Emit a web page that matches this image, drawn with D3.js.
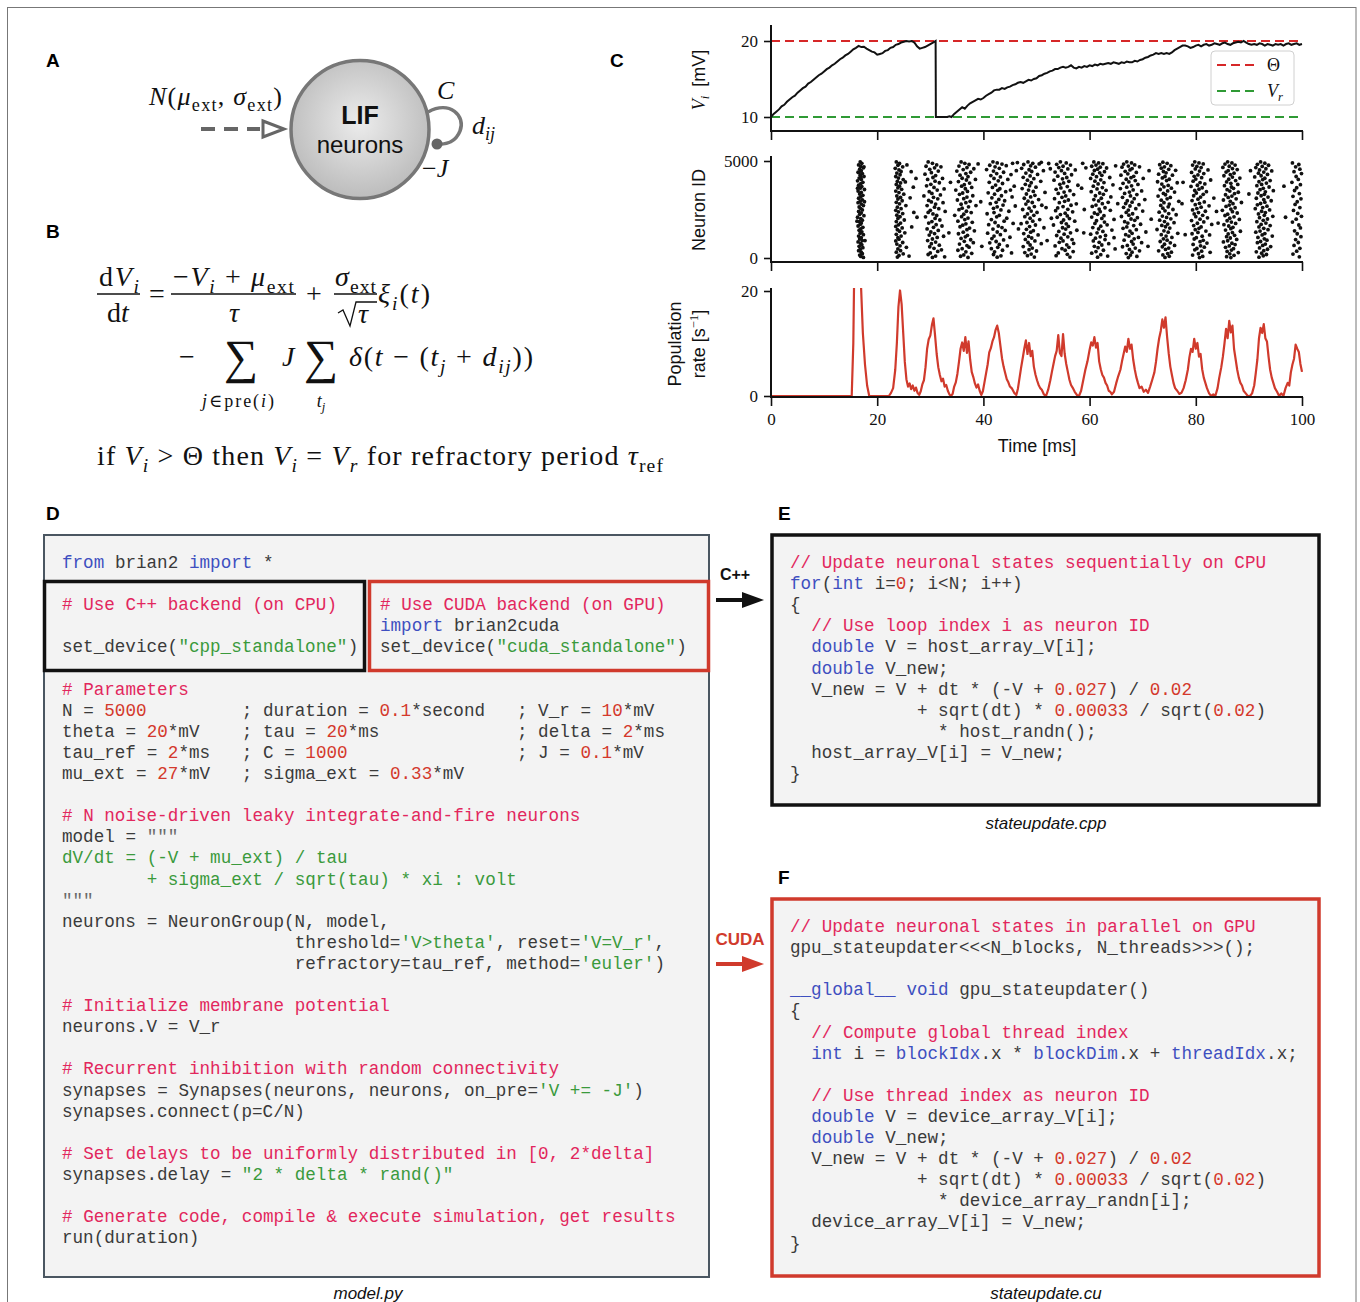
<!DOCTYPE html>
<html>
<head>
<meta charset="utf-8">
<script src="https://cdn.jsdelivr.net/npm/d3@7"></script>
<style>
  body { margin: 0; background: #fff; }
  svg { display: block; }
</style>
</head>
<body>
<svg id="fig" width="1360" height="1302"></svg>
<script>
// ---------------------------------------------------------------
// Data: single-neuron membrane potential, spike raster, population rate
// ---------------------------------------------------------------
const timeTicks = [0, 20, 40, 60, 80, 100];
const vTicks = [10, 20];
const idTicks = [0, 5000];
const rateTicks = [0, 20];
const thetaMV = 20;
const vResetMV = 10;

// [time ms, V mV] for one example neuron
const vTrace = [
  [0,10.0],[0.5,10.4],[1,10.7],[1.5,11.0],[2,11.4],[2.5,11.6],[3,12.0],[3.5,12.3],[4,12.6],[4.5,12.8],
  [5,13.2],[5.5,13.5],[6,13.8],[6.5,14.0],[7,14.4],[7.5,14.6],[8,14.9],[8.5,15.2],[9,15.5],[9.5,15.7],
  [10,16.0],[10.5,16.3],[11,16.5],[11.5,16.8],[12,17.0],[12.5,17.3],[13,17.6],[13.5,17.8],[14,18.1],[14.5,18.3],
  [15,18.6],[15.5,18.9],[16,19.1],[16.5,19.35],[17,19.2],[17.5,19.25],[18,19.0],[18.5,18.8],[19,18.6],[19.5,18.5],
  [20,18.2],[20.5,18.3],[21,18.4],[21.5,18.7],[22,18.8],[22.5,19.1],[23,19.2],[23.5,19.5],[24,19.6],[24.5,19.8],
  [25,19.9],[25.5,20.0],[26,19.95],[26.5,20.0],[27,19.8],[27.5,19.3],[28,19.0],[28.5,19.1],[29,19.2],[29.5,19.4],
  [30,19.6],[30.5,19.8],[31,20.0],[31.05,10.0],[33.2,10.0],[33.6,10.1],[34,10.0],[34.5,10.4],[35,10.7],[35.5,11.0],
  [36,11.3],[36.5,11.1],[37,11.5],[37.5,11.8],[38,12.0],[38.5,12.2],[39,12.4],[39.5,12.3],[40,12.5],[40.5,12.8],
  [41,13.0],[41.5,13.2],[42,13.5],[42.5,13.6],[43,13.6],[43.5,13.8],[44,13.7],[44.5,13.9],[45,14.0],[45.5,14.2],
  [46,14.3],[46.5,14.5],[47,14.6],[47.5,14.5],[48,14.7],[48.5,14.9],[49,14.8],[49.5,15.0],[50,15.1],[50.5,15.4],
  [51,15.5],[51.5,15.7],[52,15.8],[52.5,16.0],[53,16.1],[53.5,16.3],[54,16.3],[54.5,16.5],[55,16.6],[55.5,16.5],
  [56,16.6],[56.5,16.8],[57,16.5],[57.5,16.4],[58,16.6],[58.5,16.5],[59,16.7],[59.5,16.6],[60,16.8],[60.5,16.7],
  [61,16.9],[61.5,16.8],[62,17.0],[62.5,16.9],[63,17.0],[63.5,17.1],[64,17.0],[64.5,17.2],[65,17.1],[65.5,17.0],
  [66,17.2],[66.5,17.1],[67,17.3],[67.5,17.2],[68,17.2],[68.5,17.4],[69,17.3],[69.5,17.5],[70,17.6],[70.5,17.8],
  [71,17.9],[71.5,18.1],[72,18.2],[72.5,18.4],[73,18.3],[73.5,18.4],[74,18.3],[74.5,18.4],[75,18.3],[75.5,18.5],
  [76,18.8],[76.5,19.0],[77,19.2],[77.5,19.4],[78,19.4],[78.5,19.3],[79,19.1],[79.5,19.2],[80,19.4],[80.5,19.5],
  [81,19.3],[81.5,19.5],[82,19.6],[82.5,19.4],[83,19.5],[83.5,19.7],[84,19.6],[84.5,19.5],[85,19.7],[85.5,19.8],
  [86,19.6],[86.5,19.5],[87,19.7],[87.5,19.8],[88,19.9],[88.5,19.8],[89,20.0],[89.5,19.8],[90,19.6],[90.5,19.5],
  [91,19.6],[91.5,19.5],[92,19.7],[92.5,19.6],[93,19.4],[93.5,19.6],[94,19.5],[94.5,19.4],[95,19.6],[95.5,19.5],
  [96,19.6],[96.5,19.4],[97,19.6],[97.5,19.7],[98,19.5],[98.5,19.6],[99,19.7],[99.5,19.5],[100,19.6]
];

// [time ms, population rate s^-1]
const popRate = [
  [0,0],[15.2,0],[15.5,10],[15.7,26],[16.2,60],[16.6,48],[16.95,21],[17.3,12],[17.7,6],[18.1,2],[18.5,0],
  [22.2,0],[22.6,0.6],[23.0,1.5],[23.4,5],[23.7,10],[24.0,17],[24.3,20.1],[24.6,17.5],[24.9,12],[25.2,6.5],
  [25.5,3.2],[25.8,1.8],[26.1,2.4],[26.4,1.3],[26.7,2.0],[27.0,1.0],[27.3,1.6],[27.6,0.6],[27.9,0.2],[28.2,0.9],
  [28.5,2.2],[28.8,3.0],[29.1,5.5],[29.4,9.0],[29.7,10.8],[30.0,11.5],[30.3,13.5],[30.6,14.8],[30.9,11.5],[31.2,8.0],
  [31.5,5.5],[31.8,4.0],[32.1,2.8],[32.4,3.3],[32.7,1.8],[33.0,2.1],[33.3,1.0],[33.6,0.3],[33.9,0],[34.2,0.4],
  [34.5,1.8],[34.8,2.6],[35.1,4.2],[35.4,6.5],[35.7,9.0],[36.0,10.2],[36.3,8.6],[36.6,11.2],[36.9,8.2],[37.2,10.4],
  [37.5,7.0],[37.8,4.6],[38.1,3.6],[38.4,2.4],[38.7,1.6],[39.0,2.2],[39.3,1.0],[39.6,0.2],[39.9,0.9],[40.2,2.6],
  [40.5,4.3],[40.8,6.0],[41.1,8.3],[41.4,9.1],[41.7,10.4],[42.0,11.2],[42.3,12.6],[42.6,13.4],[42.9,12.0],[43.2,9.6],
  [43.5,7.2],[43.8,5.6],[44.1,4.4],[44.4,3.2],[44.7,2.6],[45.0,1.8],[45.4,1.4],[45.8,0.6],[46.2,0.2],[46.5,1.4],
  [46.8,3.4],[47.1,5.4],[47.4,7.2],[47.7,9.0],[48.0,10.6],[48.3,8.0],[48.6,10.1],[48.9,7.6],[49.2,8.6],[49.5,5.6],
  [49.8,4.1],[50.1,3.0],[50.4,2.1],[50.7,1.5],[51.0,1.2],[51.4,0.3],[51.8,0],[52.2,1.2],[52.6,3.0],[52.9,4.6],
  [53.2,6.1],[53.5,7.6],[53.8,8.6],[54.1,11.6],[54.4,8.2],[54.7,7.6],[55.0,11.8],[55.3,8.1],[55.6,6.1],[55.9,4.6],
  [56.2,3.1],[56.5,2.1],[56.8,1.6],[57.2,0.8],[57.6,0.2],[58.0,0],[58.4,1.0],[58.8,3.0],[59.2,5.0],[59.6,6.6],
  [60.0,8.8],[60.3,10.2],[60.6,9.6],[60.9,11.2],[61.2,9.2],[61.5,10.1],[61.8,6.6],[62.1,5.1],[62.4,4.0],[62.7,3.5],
  [63.0,2.5],[63.3,2.0],[63.6,1.0],[63.9,0.8],[64.2,0.3],[64.6,0.8],[65.0,2.4],[65.4,3.8],[65.8,5.0],[66.1,6.6],
  [66.4,8.0],[66.7,9.4],[67.0,8.4],[67.3,10.9],[67.6,9.0],[67.9,9.8],[68.2,7.0],[68.5,5.1],[68.8,3.6],[69.1,2.5],
  [69.4,1.5],[69.8,1.8],[70.2,0.8],[70.6,1.2],[71.0,0.6],[71.4,1.8],[71.8,3.1],[72.2,4.5],[72.5,6.5],[72.8,9.0],
  [73.1,11.0],[73.4,12.4],[73.7,14.6],[74.0,13.0],[74.3,15.0],[74.6,11.2],[74.9,8.1],[75.2,5.6],[75.5,4.0],[75.8,2.5],
  [76.1,1.5],[76.5,1.0],[76.9,0.4],[77.3,0.6],[77.7,1.5],[78.1,3.0],[78.5,5.0],[78.8,7.4],[79.1,9.0],[79.4,8.4],
  [79.7,10.9],[80.0,9.0],[80.3,10.1],[80.6,7.5],[80.9,8.0],[81.2,5.1],[81.5,3.5],[81.8,2.5],[82.1,1.5],[82.5,0.5],
  [82.9,0],[83.3,0.3],[83.7,0.1],[84.1,1.5],[84.4,3.4],[84.8,5.5],[85.1,7.5],[85.4,10.0],[85.7,12.8],[86.0,11.0],
  [86.3,14.3],[86.6,12.1],[86.9,13.4],[87.2,9.0],[87.5,7.0],[87.8,5.0],[88.1,3.5],[88.4,2.5],[88.7,2.0],[89.0,1.0],
  [89.4,0.5],[89.8,0],[90.2,0],[90.6,0.5],[91.0,2.0],[91.3,4.4],[91.6,7.0],[91.9,11.0],[92.2,13.0],[92.5,12.0],
  [92.8,13.7],[93.1,11.0],[93.4,10.4],[93.7,7.5],[94.0,5.0],[94.3,3.5],[94.6,2.5],[94.9,1.5],[95.3,0.8],[95.7,0],
  [96.1,0.5],[96.5,0],[96.9,1.5],[97.3,2.5],[97.6,2.0],[97.9,4.5],[98.2,6.0],[98.5,7.1],[98.8,9.8],[99.1,9.0],
  [99.4,8.4],[99.7,6.1],[100,4.6]
];

// Spikes as [time ms, neuron index], grouped by population burst
const rasterBursts = [
  [[16.8,4950],[17.1,4880],[16.5,4800],[16.9,4720],[17.4,4650],[16.7,4580],[17.0,4500],[16.4,4420],[17.2,4350],[16.8,4270],[17.5,4200],[16.6,4120],[17.0,4050],[16.3,3980],[17.3,3900],[16.9,3830],[16.5,3750],[17.1,3680],[16.8,3600],[17.6,3530],[16.4,3450],[17.0,3380],[16.7,3300],[17.3,3230],[16.9,3150],[16.5,3080],[17.2,3000],[16.8,2930],[16.4,2850],[17.0,2780],[17.4,2700],[16.6,2630],[16.9,2550],[17.2,2480],[16.5,2400],[17.0,2330],[16.7,2250],[17.5,2180],[16.3,2100],[16.9,2030],[17.2,1950],[16.6,1880],[17.0,1800],[16.8,1730],[16.4,1650],[17.3,1580],[16.9,1500],[16.6,1430],[17.1,1350],[16.8,1280],[17.4,1200],[16.5,1130],[17.0,1050],[16.7,980],[17.2,900],[16.4,830],[16.9,750],[17.1,680],[16.6,600],[17.3,530],[16.8,450],[16.5,380],[17.0,300],[17.2,220],[16.7,150],[16.9,80],[17.4,30],[16.6,4400],[17.6,2900],[16.2,1900],[17.7,900],[16.3,3600],[17.5,4700],[16.9,4150]],
  [[23.6,4950],[24.2,4870],[23.9,4780],[24.8,4700],[23.4,4620],[24.1,4540],[25.6,4800],[24.5,4460],[23.7,4380],[24.3,4290],[26.4,4450],[23.5,4200],[24.0,4120],[24.9,4040],[23.8,3950],[24.4,3870],[25.3,3920],[23.6,3790],[24.2,3700],[26.8,3650],[23.9,3620],[24.6,3540],[23.5,3450],[24.1,3370],[25.0,3290],[23.7,3200],[24.4,3120],[23.9,3040],[26.2,3100],[24.7,2950],[23.6,2870],[24.2,2790],[25.4,2700],[23.8,2620],[24.5,2540],[23.5,2460],[24.0,2380],[26.9,2350],[24.8,2290],[23.7,2210],[24.3,2130],[23.9,2040],[25.1,1960],[23.6,1880],[24.4,1800],[24.0,1710],[23.5,1630],[24.7,1550],[26.5,1600],[23.8,1460],[24.2,1380],[25.2,1300],[23.6,1220],[24.5,1130],[23.9,1050],[24.1,970],[23.5,880],[24.8,800],[23.7,720],[24.3,630],[25.5,550],[23.9,470],[24.4,380],[23.6,300],[24.9,210],[24.1,130],[26.0,100],[23.8,50]],
  [[29.6,4950],[30.4,4880],[31.2,4800],[29.2,4730],[30.8,4650],[32.0,4700],[29.9,4570],[31.5,4480],[30.2,4400],[29.0,4320],[31.0,4250],[30.5,4150],[32.3,4100],[29.5,4050],[30.9,3960],[31.7,3880],[30.1,3800],[29.3,3720],[30.7,3640],[32.6,3560],[31.3,3500],[29.8,3420],[30.3,3330],[31.9,3250],[28.8,3200],[30.6,3130],[31.4,3050],[29.7,2970],[30.2,2890],[32.4,2850],[31.0,2780],[29.4,2700],[30.8,2620],[31.6,2540],[30.0,2460],[32.8,2400],[29.6,2350],[30.5,2270],[31.2,2190],[29.1,2120],[30.9,2040],[31.8,1960],[30.3,1880],[29.7,1800],[31.1,1720],[32.2,1650],[30.6,1580],[29.4,1500],[31.5,1420],[30.1,1340],[30.8,1260],[29.8,1180],[32.5,1120],[31.3,1060],[30.4,980],[29.5,900],[31.0,820],[30.2,740],[31.7,660],[29.9,580],[30.7,500],[32.1,420],[31.4,340],[30.0,260],[29.6,180],[31.0,100],[32.7,60],[30.4,30]],
  [[35.8,4950],[36.5,4880],[37.3,4820],[35.4,4740],[36.9,4660],[38.2,4600],[36.2,4560],[35.0,4480],[37.6,4420],[36.7,4350],[35.6,4270],[37.1,4190],[36.0,4110],[38.5,4050],[36.8,4020],[35.3,3940],[37.4,3860],[36.4,3780],[35.9,3700],[37.8,3640],[36.6,3570],[34.8,3500],[37.0,3430],[36.1,3350],[35.5,3280],[38.0,3210],[36.9,3140],[36.3,3060],[35.1,2990],[37.5,2920],[36.7,2850],[35.8,2770],[38.6,2700],[37.2,2640],[36.0,2570],[35.4,2490],[36.8,2410],[37.7,2340],[36.3,2260],[34.6,2200],[35.9,2130],[37.1,2060],[36.5,1980],[35.2,1900],[37.9,1840],[36.7,1760],[36.1,1690],[35.6,1610],[37.4,1540],[36.9,1460],[38.3,1400],[36.2,1330],[35.3,1250],[37.0,1170],[36.6,1090],[35.8,1010],[37.6,940],[36.4,860],[38.1,790],[35.5,720],[36.9,640],[37.3,560],[36.0,480],[35.2,400],[36.7,320],[37.8,240],[36.3,160],[35.7,90],[37.1,30]],
  [[41.8,4960],[42.6,4900],[43.5,4840],[41.2,4780],[44.3,4760],[42.2,4700],[43.0,4620],[40.6,4560],[41.9,4480],[43.8,4420],[42.5,4350],[45.2,4300],[41.4,4250],[43.2,4180],[42.0,4100],[44.6,4050],[42.8,3980],[41.1,3900],[43.6,3840],[42.3,3760],[45.8,3700],[41.7,3640],[43.1,3570],[42.7,3490],[44.2,3420],[40.9,3360],[42.1,3290],[43.4,3210],[45.4,3150],[41.6,3100],[42.9,3020],[44.0,2950],[42.4,2870],[41.3,2800],[43.7,2730],[46.0,2680],[42.6,2640],[41.9,2560],[43.3,2480],[44.8,2410],[42.0,2340],[40.7,2280],[43.0,2200],[42.5,2120],[44.4,2050],[41.5,1980],[43.9,1900],[42.2,1830],[45.6,1780],[41.0,1720],[42.8,1650],[43.5,1570],[41.8,1490],[44.1,1420],[42.6,1340],[40.8,1280],[43.2,1200],[42.0,1130],[45.0,1070],[41.6,1000],[43.8,930],[42.4,850],[41.2,780],[43.0,700],[44.5,630],[42.7,550],[41.5,480],[43.6,400],[42.1,320],[45.3,260],[41.9,180],[43.3,110],[42.6,40]],
  [[48.4,4950],[49.3,4880],[47.6,4820],[50.5,4850],[48.9,4750],[49.8,4680],[47.2,4620],[48.6,4550],[51.3,4500],[49.1,4460],[48.0,4380],[50.2,4310],[48.8,4230],[47.5,4160],[49.5,4090],[48.3,4010],[50.8,3950],[49.0,3880],[47.9,3800],[48.7,3720],[49.9,3650],[47.3,3580],[48.5,3500],[49.4,3430],[51.6,3380],[48.1,3300],[49.7,3230],[48.9,3150],[47.7,3080],[50.4,3010],[48.4,2930],[49.2,2860],[48.0,2780],[51.0,2720],[49.6,2650],[48.6,2570],[47.4,2500],[49.0,2420],[50.1,2350],[48.3,2270],[49.5,2200],[47.8,2130],[48.8,2050],[50.6,1980],[49.3,1900],[48.2,1830],[47.1,1770],[49.8,1700],[48.7,1620],[51.4,1560],[48.1,1480],[49.4,1410],[48.9,1330],[47.6,1260],[50.3,1190],[48.5,1110],[49.1,1030],[47.9,960],[49.7,880],[48.4,800],[50.9,740],[48.8,670],[47.5,590],[49.2,510],[48.6,430],[50.0,360],[47.8,280],[49.0,200],[48.3,120],[49.6,50]],
  [[54.5,4960],[55.6,4900],[53.8,4830],[56.4,4790],[55.0,4730],[54.2,4660],[55.9,4590],[57.3,4540],[54.7,4500],[53.5,4430],[55.3,4360],[56.6,4290],[54.0,4220],[55.7,4150],[54.9,4080],[53.3,4010],[56.1,3950],[55.1,3870],[54.4,3800],[57.8,3750],[55.8,3680],[54.6,3610],[53.7,3540],[56.3,3470],[55.2,3400],[54.1,3330],[57.0,3270],[55.5,3200],[54.8,3130],[53.4,3060],[56.0,2990],[55.3,2920],[54.3,2850],[57.5,2790],[56.5,2720],[55.0,2650],[54.0,2580],[55.9,2510],[53.6,2440],[56.8,2380],[55.4,2310],[54.5,2240],[55.8,2170],[53.9,2100],[56.2,2030],[55.1,1960],[57.2,1900],[54.7,1830],[55.6,1760],[53.2,1700],[56.0,1630],[54.9,1560],[55.5,1490],[57.6,1430],[54.2,1370],[56.4,1300],[55.2,1230],[53.8,1160],[55.9,1090],[54.6,1020],[56.7,950],[55.0,880],[54.3,810],[57.0,750],[55.7,680],[53.5,620],[56.1,550],[54.8,480],[55.4,400],[56.9,330],[54.1,260],[55.8,190],[53.7,120],[56.3,50]],
  [[60.8,4950],[61.7,4900],[62.5,4860],[61.2,4790],[60.4,4730],[62.0,4680],[63.2,4640],[61.5,4580],[60.9,4510],[62.8,4450],[61.9,4390],[60.6,4320],[62.3,4260],[61.3,4190],[63.8,4150],[60.2,4100],[62.1,4030],[61.0,3960],[62.7,3890],[61.6,3820],[64.4,3770],[60.7,3700],[62.4,3630],[61.4,3560],[63.1,3490],[60.3,3420],[61.9,3350],[62.6,3280],[61.1,3210],[64.0,3150],[62.2,3080],[60.8,3010],[61.7,2940],[63.5,2870],[62.4,2800],[61.2,2730],[60.5,2660],[62.9,2590],[61.8,2520],[63.9,2460],[62.0,2390],[60.9,2320],[61.5,2250],[62.7,2180],[60.4,2110],[62.3,2040],[64.6,1990],[61.3,1920],[62.8,1850],[61.0,1780],[63.3,1710],[62.1,1640],[60.6,1570],[61.7,1500],[64.2,1440],[62.5,1370],[61.4,1300],[60.2,1230],[63.0,1160],[62.0,1090],[61.1,1020],[62.9,950],[60.7,880],[61.8,810],[63.6,740],[62.3,670],[60.9,600],[61.6,530],[64.8,470],[62.6,400],[61.2,330],[60.4,250],[62.1,170],[63.4,100],[61.5,40]],
  [[67.0,4960],[67.9,4900],[66.4,4840],[68.5,4800],[67.3,4740],[66.1,4680],[69.4,4700],[68.0,4610],[67.6,4540],[66.7,4470],[68.8,4410],[67.2,4340],[65.9,4270],[68.3,4210],[67.8,4140],[70.1,4100],[66.9,4060],[68.6,3990],[67.4,3920],[66.3,3850],[69.1,3790],[67.9,3720],[67.0,3650],[65.8,3580],[68.2,3510],[69.8,3460],[67.5,3400],[66.6,3330],[68.9,3270],[67.7,3200],[66.2,3130],[68.4,3060],[70.4,3010],[67.1,2950],[68.0,2880],[66.8,2810],[69.3,2750],[67.6,2680],[66.4,2610],[68.7,2540],[67.3,2470],[70.0,2420],[66.9,2350],[68.1,2280],[67.4,2210],[66.0,2140],[69.0,2080],[67.8,2010],[68.5,1940],[66.6,1870],[67.2,1800],[69.6,1740],[68.3,1670],[67.0,1600],[66.3,1530],[68.8,1460],[67.6,1390],[70.6,1340],[68.0,1270],[66.8,1200],[67.4,1130],[69.2,1060],[68.4,990],[66.5,920],[67.9,850],[69.8,790],[68.2,720],[67.1,650],[66.2,580],[68.6,510],[67.5,440],[69.4,370],[68.0,300],[66.9,230],[67.7,150],[68.9,80],[67.3,20]],
  [[73.8,4940],[74.6,4880],[73.2,4810],[75.3,4760],[74.1,4700],[73.5,4630],[74.9,4570],[76.2,4520],[73.9,4460],[74.4,4390],[73.0,4320],[75.6,4270],[74.2,4200],[73.7,4130],[75.0,4060],[74.5,3990],[72.8,3930],[76.5,3880],[73.6,3810],[74.8,3740],[74.0,3670],[75.4,3600],[73.3,3530],[74.7,3460],[76.0,3400],[73.9,3330],[74.3,3260],[72.9,3190],[75.2,3120],[74.6,3050],[73.5,2980],[76.8,2920],[74.0,2850],[75.0,2780],[73.4,2710],[74.8,2640],[73.8,2570],[75.7,2500],[74.2,2430],[73.1,2360],[74.9,2290],[76.3,2230],[73.7,2160],[74.5,2090],[75.3,2020],[73.2,1950],[74.1,1880],[75.9,1820],[74.7,1750],[73.6,1680],[74.3,1610],[75.1,1540],[72.7,1470],[74.0,1400],[74.8,1330],[76.6,1270],[73.5,1200],[74.4,1130],[75.5,1060],[73.9,990],[74.6,920],[73.3,850],[75.2,780],[74.1,710],[76.0,650],[73.7,580],[74.9,510],[74.3,440],[73.0,370],[75.4,300],[74.7,230],[73.8,160],[75.0,90],[74.2,30]],
  [[79.8,4960],[80.6,4900],[81.4,4850],[79.4,4790],[80.2,4720],[81.0,4660],[79.9,4590],[82.3,4540],[80.7,4480],[79.2,4410],[81.5,4350],[80.4,4280],[79.7,4210],[81.1,4140],[80.0,4070],[82.8,4020],[79.5,3960],[80.8,3890],[81.7,3820],[80.3,3750],[79.1,3690],[81.2,3620],[80.6,3550],[79.8,3480],[82.0,3420],[80.1,3350],[81.4,3280],[79.6,3210],[80.9,3140],[83.4,3090],[80.4,3030],[79.3,2960],[81.6,2890],[80.7,2820],[79.9,2750],[82.5,2690],[81.0,2620],[80.2,2550],[79.4,2480],[81.8,2410],[80.5,2340],[79.7,2270],[81.3,2200],[80.0,2130],[82.2,2070],[80.8,2000],[79.2,1930],[81.5,1860],[80.3,1790],[83.0,1730],[79.6,1670],[81.0,1600],[80.6,1530],[79.9,1460],[81.9,1390],[80.4,1320],[79.3,1250],[82.6,1190],[81.2,1120],[80.1,1050],[79.7,980],[81.4,910],[80.8,840],[82.1,770],[79.5,700],[80.9,630],[81.6,560],[80.2,490],[79.8,420],[81.1,350],[82.7,290],[80.5,220],[79.4,150],[81.3,80],[80.7,20]],
  [[86.0,4960],[86.8,4900],[85.5,4840],[87.4,4790],[86.3,4730],[85.1,4670],[86.9,4610],[87.8,4560],[86.1,4500],[85.7,4430],[87.2,4370],[86.5,4300],[85.3,4240],[86.9,4170],[88.3,4120],[86.2,4060],[87.5,3990],[85.8,3920],[86.6,3850],[87.9,3790],[85.4,3730],[86.7,3660],[87.1,3590],[85.9,3520],[86.4,3450],[88.0,3390],[87.3,3320],[85.6,3260],[86.8,3190],[86.1,3120],[87.6,3050],[85.2,2990],[86.5,2920],[88.6,2860],[87.0,2800],[86.3,2730],[85.7,2660],[87.4,2590],[86.6,2520],[85.0,2460],[86.9,2390],[87.8,2320],[86.0,2260],[85.5,2190],[87.2,2120],[86.4,2050],[88.2,1990],[85.9,1920],[86.7,1850],[87.5,1780],[85.3,1720],[86.2,1650],[87.0,1580],[86.6,1510],[85.6,1440],[88.4,1380],[86.9,1310],[86.1,1240],[87.3,1170],[85.8,1100],[86.5,1030],[87.7,960],[86.0,890],[85.2,830],[86.8,760],[87.4,690],[86.3,620],[85.6,550],[87.1,480],[86.7,410],[85.9,340],[88.0,280],[86.4,210],[87.2,140],[85.8,70],[86.6,20]],
  [[92.2,4950],[93.0,4890],[91.6,4830],[93.7,4780],[92.5,4720],[91.3,4660],[93.2,4600],[92.0,4540],[94.3,4490],[92.8,4430],[91.8,4370],[93.5,4310],[92.3,4240],[91.1,4180],[93.0,4110],[92.6,4040],[94.0,3990],[91.9,3930],[93.3,3860],[92.4,3790],[91.5,3730],[93.8,3660],[92.7,3590],[92.1,3520],[94.6,3470],[93.1,3410],[91.7,3350],[92.9,3280],[92.3,3210],[93.6,3140],[91.4,3080],[92.8,3010],[94.2,2950],[93.0,2880],[92.2,2810],[91.6,2740],[93.4,2670],[92.6,2600],[91.2,2540],[93.9,2480],[92.4,2410],[93.1,2340],[91.8,2270],[92.9,2200],[94.5,2150],[92.0,2080],[93.5,2010],[92.7,1940],[91.5,1870],[93.2,1800],[92.3,1730],[94.0,1670],[91.9,1600],[92.8,1530],[93.6,1460],[92.1,1390],[91.3,1330],[93.0,1260],[92.5,1190],[94.4,1130],[91.7,1060],[92.9,990],[93.4,920],[92.2,850],[91.6,790],[93.1,720],[92.6,650],[94.1,590],[92.0,520],[93.5,450],[92.8,380],[91.4,320],[92.4,250],[93.3,180],[92.7,110],[91.9,40]],
  [[98.2,4900],[99.4,4820],[98.8,4700],[99.6,4580],[98.5,4450],[99.9,4350],[98.9,4200],[99.3,4050],[98.1,3900],[99.7,3780],[99.0,3620],[98.6,3480],[99.5,3320],[98.3,3180],[99.8,3050],[99.1,2900],[98.7,2760],[99.6,2600],[98.4,2450],[99.2,2300],[99.9,2150],[98.9,2000],[98.2,1850],[99.4,1700],[99.7,1550],[98.6,1400],[99.1,1250],[99.8,1100],[98.8,950],[99.3,800],[98.5,650],[99.6,500],[99.0,350],[98.3,200],[99.5,60]],
  // isolated spikes between bursts
  [[39.0,4850],[45.5,4880],[46.4,4920],[50.9,4930],[52.3,4870],[52.6,4600],[46.2,4500],[45.1,3500],[39.5,2900],[51.8,2600],[52.8,2050],[46.6,1500],[58.7,4880],[59.3,4650],[58.5,3600],[59.0,2500],[58.9,1300],[64.9,4750],[65.3,2800],[64.6,1050],[71.2,4500],[71.6,2000],[71.0,600],[77.6,3900],[78.0,1200],[77.4,2800],[83.9,2400],[84.2,1800],[90.3,4500],[90.0,3300],[96.6,3700],[96.9,2100],[27.5,2100],[27.3,4100],[33.8,3900],[33.5,1300],[39.7,600],[52.0,900]]
];

// Source listings; «x…» marks a highlighted token (c comment, k keyword, n number, s string, q quote)
const modelPy = [
  "«kfrom» brian2 «kimport» *",
  "", "", "", "", "",
  "«c# Parameters»",
  "N = «n5000»         ; duration = «n0.1»*second   ; V_r = «n10»*mV",
  "theta = «n20»*mV    ; tau = «n20»*ms             ; delta = «n2»*ms",
  "tau_ref = «n2»*ms   ; C = «n1000»                ; J = «n0.1»*mV",
  "mu_ext = «n27»*mV   ; sigma_ext = «n0.33»*mV",
  "",
  "«c# N noise-driven leaky integrate-and-fire neurons»",
  'model = «q"""»',
  "«sdV/dt = (-V + mu_ext) / tau»",
  "        «s+ sigma_ext / sqrt(tau) * xi : volt»",
  '«q"""»',
  "neurons = NeuronGroup(N, model,",
  "                      threshold=«s'V>theta'», reset=«s'V=V_r'»,",
  "                      refractory=tau_ref, method=«s'euler'»)",
  "",
  "«c# Initialize membrane potential»",
  "neurons.V = V_r",
  "",
  "«c# Recurrent inhibition with random connectivity»",
  "synapses = Synapses(neurons, neurons, on_pre=«s'V += -J'»)",
  "synapses.connect(p=C/N)",
  "",
  "«c# Set delays to be uniformly distributed in [0, 2*delta]»",
  'synapses.delay = «s"2 * delta * rand()"»',
  "",
  "«c# Generate code, compile & execute simulation, get results»",
  "run(duration)"
];
const cpuBackend = [
  "«c# Use C++ backend (on CPU)»",
  "",
  'set_device(«s"cpp_standalone"»)'
];
const gpuBackend = [
  "«c# Use CUDA backend (on GPU)»",
  "«kimport» brian2cuda",
  'set_device(«s"cuda_standalone"»)'
];
const stateupdateCpp = [
  "«c// Update neuronal states sequentially on CPU»",
  "«kfor»(«kint» i=«n0»; i<N; i++)",
  "{",
  "  «c// Use loop index i as neuron ID»",
  "  «kdouble» V = host_array_V[i];",
  "  «kdouble» V_new;",
  "  V_new = V + dt * (-V + «n0.027») / «n0.02»",
  "            + sqrt(dt) * «n0.00033» / sqrt(«n0.02»)",
  "              * host_randn();",
  "  host_array_V[i] = V_new;",
  "}"
];
const stateupdateCu = [
  "«c// Update neuronal states in parallel on GPU»",
  "gpu_stateupdater<<<N_blocks, N_threads>>>();",
  "",
  "«k__global__» «kvoid» gpu_stateupdater()",
  "{",
  "  «c// Compute global thread index»",
  "  «kint» i = «kblockIdx».x * «kblockDim».x + «kthreadIdx».x;",
  "",
  "  «c// Use thread index as neuron ID»",
  "  «kdouble» V = device_array_V[i];",
  "  «kdouble» V_new;",
  "  V_new = V + dt * (-V + «n0.027») / «n0.02»",
  "            + sqrt(dt) * «n0.00033» / sqrt(«n0.02»)",
  "              * device_array_randn[i];",
  "  device_array_V[i] = V_new;",
  "}"
];

// ---------------------------------------------------------------
// Drawing
// ---------------------------------------------------------------
const SERIF = "'Liberation Serif', 'DejaVu Serif', serif";
const SANS = "'Liberation Sans', Arial, sans-serif";
const MONO = "'Liberation Mono', 'DejaVu Sans Mono', monospace";
const RED = "#d03a2c", GREEN = "#2f9a35";

const svg = d3.select("#fig");
svg.append("rect").attr("width", 1360).attr("height", 1302).attr("fill", "#fff");
svg.append("rect").attr("x", 7.5).attr("y", 7.5).attr("width", 1348.5).attr("height", 1310)
  .attr("fill", "none").attr("stroke", "#777").attr("stroke-width", 1);

// panel letters
[["A", 46, 67], ["B", 46, 238], ["C", 610, 67], ["D", 46, 520], ["E", 778, 520], ["F", 778, 884]]
  .forEach(([s, x, y]) => svg.append("text").attr("x", x).attr("y", y).text(s)
    .attr("font-family", SANS).attr("font-weight", "bold").attr("font-size", 19));

// math text helper: parts [string, style] with style containing i (italic), _ (subscript), ^ (superscript)
function mtext(g, x, y, parts, fs, anchor, width) {
  const t = g.append("text").attr("x", x).attr("y", y).attr("font-family", SERIF)
    .attr("font-size", fs).attr("fill", "#111").style("white-space", "pre");
  if (anchor) t.attr("text-anchor", anchor);
  if (width) t.attr("textLength", width).attr("lengthAdjust", "spacing");
  let shift = 0;
  parts.forEach(([s, st]) => {
    const sub = st.includes("_"), sup = st.includes("^");
    const target = sub ? fs * 0.24 : sup ? -fs * 0.42 : 0;
    const ts = t.append("tspan").text(s).attr("dy", target - shift)
      .attr("font-style", st.includes("i") ? "italic" : "normal");
    if (sub || sup) ts.attr("font-size", fs * 0.7);
    shift = target;
  });
  return t;
}

// ---------------- Panel A: network sketch ----------------
const gA = svg.append("g");
const grad = svg.append("defs").append("radialGradient").attr("id", "cellFill")
  .attr("cx", "50%").attr("cy", "45%").attr("r", "55%");
grad.append("stop").attr("offset", "0%").attr("stop-color", "#ececec");
grad.append("stop").attr("offset", "100%").attr("stop-color", "#bcbcbc");
gA.append("path").attr("d", "M428,112 C450,100 466,116 460,131 C456,141 447,145 437,144")
  .attr("fill", "none").attr("stroke", "#777").attr("stroke-width", 3.5);
gA.append("circle").attr("cx", 360).attr("cy", 129.5).attr("r", 69)
  .attr("fill", "url(#cellFill)").attr("stroke", "#777").attr("stroke-width", 3.5);
gA.append("circle").attr("cx", 437).attr("cy", 144).attr("r", 5.5).attr("fill", "#666");
gA.append("text").attr("x", 360).attr("y", 124).attr("text-anchor", "middle").text("LIF")
  .attr("font-family", SANS).attr("font-weight", "bold").attr("font-size", 25).attr("fill", "#111");
gA.append("text").attr("x", 360).attr("y", 153).attr("text-anchor", "middle").text("neurons")
  .attr("font-family", SANS).attr("font-size", 24).attr("fill", "#111");
gA.append("line").attr("x1", 201).attr("x2", 260).attr("y1", 129).attr("y2", 129)
  .attr("stroke", "#666").attr("stroke-width", 4).attr("stroke-dasharray", "14,9");
gA.append("path").attr("d", "M263,121 L284,129 L263,137 Z").attr("fill", "#fff")
  .attr("stroke", "#666").attr("stroke-width", 3).attr("stroke-linejoin", "miter");
mtext(gA, 149, 105, [["N", "i"], ["(", ""], ["μ", "i"], ["ext", "_"], [", ", ""], ["σ", "i"], ["ext", "_"], [")", ""]], 26, null, 133);
mtext(gA, 437, 99, [["C", "i"]], 26);
mtext(gA, 472, 134, [["d", "i"], ["ij", "i_"]], 26);
mtext(gA, 422, 177, [["−", ""], ["J", "i"]], 26);

// ---------------- Panel B: equations ----------------
const gB = svg.append("g");
const MF = 28;
function fracLine(x1, x2) {
  gB.append("line").attr("x1", x1).attr("x2", x2).attr("y1", 294).attr("y2", 294)
    .attr("stroke", "#111").attr("stroke-width", 1.3);
}
mtext(gB, 99, 286, [["d", ""], ["V", "i"], ["i", "i_"]], MF, null, 40);
fracLine(97, 140);
mtext(gB, 118, 322, [["d", ""], ["t", "i"]], MF, "middle");
mtext(gB, 149, 303, [["=", ""]], MF);
mtext(gB, 173, 286, [["−", ""], ["V", "i"], ["i", "i_"], [" + ", ""], ["μ", "i"], ["ext", "_"]], MF, null, 121);
fracLine(171, 296);
mtext(gB, 234, 322, [["τ", "i"]], MF, "middle");
mtext(gB, 306, 303, [["+", ""]], MF);
mtext(gB, 335, 286, [["σ", "i"], ["ext", "_"]], MF, null, 41);
fracLine(334, 377);
gB.append("path").attr("d", "M338,313 L343,310 L350,326 L356,302 L377,302")
  .attr("fill", "none").attr("stroke", "#111").attr("stroke-width", 1.3);
mtext(gB, 358, 323, [["τ", "i"]], MF);
mtext(gB, 378, 303, [["ξ", "i"], ["i", "i_"], ["(", ""], ["t", "i"], [")", ""]], MF, null, 52);
mtext(gB, 179, 366, [["−", ""]], MF);
// summation signs drawn as large glyphs, limits set below them
mtext(gB, 241, 373, [["∑", ""]], 48, "middle");
mtext(gB, 202, 407, [["j", "i"], ["∈", ""], ["pre(", ""], ["i", "i"], [")", ""]], 18, null, 72);
mtext(gB, 282, 366, [["J", "i"]], MF);
mtext(gB, 321, 373, [["∑", ""]], 48, "middle");
mtext(gB, 321, 407, [["t", "i"], ["j", "i_"]], 18, "middle");
mtext(gB, 349, 366, [["δ", "i"], ["(", ""], ["t", "i"], [" − (", ""], ["t", "i"], ["j", "i_"], [" + ", ""], ["d", "i"], ["ij", "i_"], ["))", ""]], MF, null, 184);
mtext(gB, 97, 465, [["if ", ""], ["V", "i"], ["i", "i_"], [" > Θ then ", ""], ["V", "i"], ["i", "i_"], [" = ", ""],
  ["V", "i"], ["r", "i_"], [" for refractory period ", ""], ["τ", "i"], ["ref", "_"]], MF, null, 566);

// ---------------- Panel C: simulation results ----------------
const gC = svg.append("g");
const xT = d3.scaleLinear().domain([0, 100]).range([771, 1302]);
const yV = d3.scaleLinear().domain([10, 20]).range([117, 41]);
const yN = d3.scaleLinear().domain([0, 5000]).range([258, 161]);
const yR = d3.scaleLinear().domain([0, 20]).range([396, 291]);

function spines(yTop, yBottom) {
  gC.append("line").attr("x1", 771).attr("x2", 771).attr("y1", yTop).attr("y2", yBottom + 1)
    .attr("stroke", "#111").attr("stroke-width", 2);
  gC.append("line").attr("x1", 770).attr("x2", 1303).attr("y1", yBottom).attr("y2", yBottom)
    .attr("stroke", "#111").attr("stroke-width", 2);
}
function styleAxis(sel) {
  sel.select(".domain").remove();
  sel.attr("font-family", SERIF).attr("font-size", 17);
  sel.selectAll(".tick line").attr("stroke", "#111").attr("stroke-width", 1.6);
  sel.selectAll(".tick text").attr("fill", "#111");
}
function leftAxis(scale, ticks, fmt) {
  gC.append("g").attr("transform", "translate(771,0)")
    .call(d3.axisLeft(scale).tickValues(ticks).tickSize(7).tickPadding(6).tickFormat(fmt))
    .call(styleAxis);
}
function bottomAxis(yPos, withLabels) {
  const ax = d3.axisBottom(xT).tickValues(timeTicks).tickSize(9).tickPadding(7);
  if (!withLabels) ax.tickFormat("");
  gC.append("g").attr("transform", `translate(0,${yPos})`).call(ax).call(styleAxis);
}

// membrane potential
gC.append("line").attr("x1", xT(0)).attr("x2", xT(100)).attr("y1", yV(thetaMV)).attr("y2", yV(thetaMV))
  .attr("stroke", "#d62728").attr("stroke-width", 2).attr("stroke-dasharray", "9,5");
gC.append("line").attr("x1", xT(0)).attr("x2", xT(100)).attr("y1", yV(vResetMV)).attr("y2", yV(vResetMV))
  .attr("stroke", GREEN).attr("stroke-width", 2).attr("stroke-dasharray", "9,5");
gC.append("path").datum(vTrace)
  .attr("d", d3.line().x(d => xT(d[0])).y(d => yV(d[1])))
  .attr("fill", "none").attr("stroke", "#111").attr("stroke-width", 2);
spines(25, 131);
leftAxis(yV, vTicks, d3.format("d"));
bottomAxis(131, false);
// legend
const leg = gC.append("g");
leg.append("rect").attr("x", 1211).attr("y", 51).attr("width", 83).attr("height", 54).attr("rx", 4)
  .attr("fill", "#fff").attr("fill-opacity", 0.85).attr("stroke", "#d0d0d0");
leg.append("line").attr("x1", 1217).attr("x2", 1254).attr("y1", 65).attr("y2", 65)
  .attr("stroke", "#d62728").attr("stroke-width", 2).attr("stroke-dasharray", "9,5");
leg.append("line").attr("x1", 1217).attr("x2", 1254).attr("y1", 91).attr("y2", 91)
  .attr("stroke", GREEN).attr("stroke-width", 2).attr("stroke-dasharray", "9,5");
mtext(leg, 1267, 71, [["Θ", ""]], 18);
mtext(leg, 1267, 97, [["V", "i"], ["r", "i_"]], 18);
// y label
const lab1 = gC.append("text").attr("transform", "translate(705,80) rotate(-90)").attr("text-anchor", "middle")
  .attr("font-size", 18).attr("fill", "#111");
lab1.append("tspan").attr("font-family", SERIF).attr("font-style", "italic").text("V");
lab1.append("tspan").attr("font-family", SERIF).attr("font-style", "italic").attr("font-size", 12.5).attr("dy", 4).text("i");
lab1.append("tspan").attr("font-family", SANS).attr("dy", -4).text("\u2002[mV]");

// raster
gC.append("g").selectAll("circle").data(rasterBursts.flat()).join("circle")
  .attr("cx", d => xT(d[0])).attr("cy", d => yN(d[1])).attr("r", 1.9).attr("fill", "#111");
spines(156, 262);
leftAxis(yN, idTicks, d3.format("d"));
bottomAxis(262, false);
gC.append("text").attr("transform", "translate(705,210) rotate(-90)").attr("text-anchor", "middle")
  .attr("font-family", SANS).attr("font-size", 18).attr("fill", "#111").text("Neuron ID");

// population rate
svg.append("defs").append("clipPath").attr("id", "rateClip")
  .append("rect").attr("x", 771).attr("y", 288).attr("width", 532).attr("height", 110);
gC.append("path").datum(popRate).attr("clip-path", "url(#rateClip)")
  .attr("d", d3.line().x(d => xT(d[0])).y(d => yR(d[1])))
  .attr("fill", "none").attr("stroke", RED).attr("stroke-width", 2.2).attr("stroke-linejoin", "round");
spines(288, 397);
leftAxis(yR, rateTicks, d3.format("d"));
bottomAxis(397, true);
gC.append("text").attr("transform", "translate(681,344) rotate(-90)").attr("text-anchor", "middle")
  .attr("font-family", SANS).attr("font-size", 18).attr("fill", "#111").text("Population");
const lab3 = gC.append("text").attr("transform", "translate(705,344) rotate(-90)").attr("text-anchor", "middle")
  .attr("font-family", SANS).attr("font-size", 18).attr("fill", "#111");
lab3.append("tspan").text("rate [s");
lab3.append("tspan").attr("font-family", SERIF).attr("font-size", 12.5).attr("dy", -7).text("−1");
lab3.append("tspan").attr("dy", 7).text("]");
gC.append("text").attr("x", 1037).attr("y", 452).attr("text-anchor", "middle")
  .attr("font-family", SANS).attr("font-size", 18).attr("fill", "#111").text("Time [ms]");

// ---------------- Panels D, E, F: code listings ----------------
const CW = 10.58, LH = 21.1, CODE_FS = 17.6;
const codeColors = { t: "#3a3a3a", c: "#e2275d", k: "#3e4fc0", n: "#d4392c", s: "#3a9a3c", q: "#6a6a6a" };
function drawCode(x0, yCenter0, lines) {
  const g = svg.append("g").attr("font-family", MONO).attr("font-size", CODE_FS);
  lines.forEach((line, i) => {
    if (!line) return;
    const text = g.append("text").attr("y", yCenter0 + i * LH + 6);
    const re = /«(.)(.*?)»|([^«]+)/g;
    let m, col = 0;
    while ((m = re.exec(line))) {
      const cls = m[1] || "t";
      const seg = m[1] ? m[2] : m[3];
      const wr = /\S+/g;
      let w;
      while ((w = wr.exec(seg))) {
        text.append("tspan").attr("x", x0 + (col + w.index) * CW).attr("fill", codeColors[cls]).text(w[0]);
      }
      col += seg.length;
    }
  });
}
function box(x, y, w, h, stroke, sw, fill) {
  svg.append("rect").attr("x", x).attr("y", y).attr("width", w).attr("height", h)
    .attr("fill", fill || "none").attr("stroke", stroke).attr("stroke-width", sw);
}

// D
box(44, 535, 665, 742, "#4a5661", 2, "#f3f3f3");
box(44.5, 581.5, 320, 89, "#111", 3.5);
box(369.5, 581.5, 339, 89, RED, 3.5);
drawCode(62, 562, modelPy);
drawCode(62, 562 + 2 * LH, cpuBackend);
drawCode(380, 562 + 2 * LH, gpuBackend);
svg.append("text").attr("x", 368).attr("y", 1299).attr("text-anchor", "middle").text("model.py")
  .attr("font-family", SANS).attr("font-style", "italic").attr("font-size", 17).attr("fill", "#111");

// E
box(772, 535, 547, 270, "#111", 3.5, "#f3f3f3");
drawCode(790, 562, stateupdateCpp);
svg.append("text").attr("x", 1046).attr("y", 829).attr("text-anchor", "middle").text("stateupdate.cpp")
  .attr("font-family", SANS).attr("font-style", "italic").attr("font-size", 17).attr("fill", "#111");

// F
box(772, 899, 547, 377, RED, 3.5, "#f3f3f3");
drawCode(790, 926, stateupdateCu);
svg.append("text").attr("x", 1046).attr("y", 1299).attr("text-anchor", "middle").text("stateupdate.cu")
  .attr("font-family", SANS).attr("font-style", "italic").attr("font-size", 17).attr("fill", "#111");

// backend arrows
function arrow(y, color) {
  svg.append("line").attr("x1", 716).attr("x2", 745).attr("y1", y).attr("y2", y)
    .attr("stroke", color).attr("stroke-width", 4);
  svg.append("path").attr("d", `M742,${y - 8} L764,${y} L742,${y + 8} Z`).attr("fill", color);
}
svg.append("text").attr("x", 735).attr("y", 580).attr("text-anchor", "middle").text("C++")
  .attr("font-family", SANS).attr("font-weight", "bold").attr("font-size", 16).attr("fill", "#111");
arrow(600, "#111");
svg.append("text").attr("x", 740).attr("y", 945).attr("text-anchor", "middle").text("CUDA")
  .attr("font-family", SANS).attr("font-weight", "bold").attr("font-size", 17).attr("fill", RED);
arrow(964, RED);
</script>
</body>
</html>
